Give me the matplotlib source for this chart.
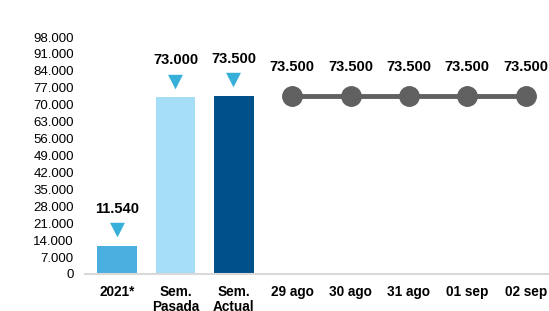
import matplotlib
matplotlib.use("Agg")
import matplotlib.pyplot as plt
from matplotlib.ticker import FuncFormatter

plt.rcParams['font.family'] = ['Liberation Sans', 'DejaVu Sans']

categories = ["2021*", "Sem.\nPasada", "Sem.\nActual", "29 ago", "30 ago", "31 ago", "01 sep", "02 sep"]
bar_values = [11540, 73000, 73500]
line_values = [73500, 73500, 73500, 73500, 73500]
yticks = list(range(0, 98001, 7000))

bar_colors = ["#4AAEDE", "#A6DDF7", "#00518A"]

def fmt(v):
    return f"{v:,.0f}".replace(",", ".")

fig = plt.figure(figsize=(5.49, 3.11), dpi=100)
ax = fig.add_axes([85/549, (311-274)/311, (549-85)/549, (274-37)/311])

xb = list(range(len(bar_values)))
ax.bar(xb, bar_values, width=0.68, color=bar_colors, zorder=2)
xl = list(range(len(bar_values), len(categories)))
ax.plot(xl, line_values, color="#606060", lw=3.5, marker="o", ms=14, zorder=3)

for x, v in zip(xb, bar_values):
    ax.annotate("▼", xy=(x, v), xytext=(0, 12), textcoords="offset points",
                ha="center", va="center", color="#36B0D8", fontsize=14,
                family=["DejaVu Sans"])
    ax.annotate(fmt(v), xy=(x, v), xytext=(0, 27), textcoords="offset points",
                ha="center", va="center", fontsize=10.5, fontweight="bold", color="black")

for x, v in zip(xl, line_values):
    ax.annotate(fmt(v), xy=(x, v), xytext=(0, 21), textcoords="offset points",
                ha="center", va="center", fontsize=10.5, fontweight="bold", color="black")

ax.set_xlim(-0.55, len(categories) - 0.6)
ax.set_ylim(0, 98000)
ax.set_yticks(yticks)
ax.yaxis.set_major_formatter(FuncFormatter(lambda v, p: fmt(v)))
ax.set_xticks(range(len(categories)))
ax.set_xticklabels(categories, fontweight="bold", fontsize=9.8, linespacing=1.1)
ax.tick_params(axis="y", length=0, labelsize=9.5, pad=8)
ax.tick_params(axis="x", length=0, pad=8)
for s in ["top", "right", "left"]:
    ax.spines[s].set_visible(False)
ax.spines["bottom"].set_color("#D9D9D9")
ax.spines["bottom"].set_linewidth(1.5)

fig.savefig("out.png", dpi=100)
